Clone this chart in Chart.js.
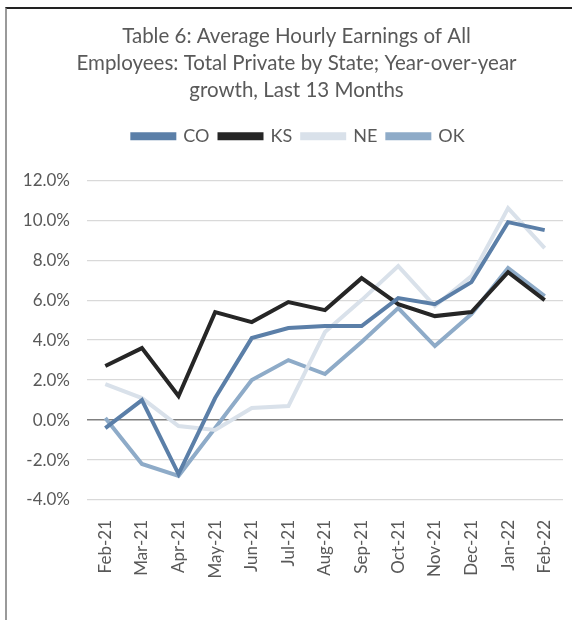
<!DOCTYPE html>
<html>
<head>
<meta charset="utf-8">
<script src="https://cdn.jsdelivr.net/npm/chart.js@4/dist/chart.umd.min.js"></script>
<style>
  html, body { margin: 0; padding: 0; background: #fff; }
  #frame { position: absolute; left: 5px; top: 7px; width: 567px; height: 613px;
           border-left: 2px solid #9a9a9a; border-top: 2px solid #222; box-sizing: border-box; }
  #wrap { position: absolute; left: 0; top: 0; width: 572px; height: 620px; }
</style>
</head>
<body>
<div id="frame"></div>
<div id="wrap"><canvas id="c" width="572" height="620"></canvas></div>
<script>
const categories = ["Feb-21","Mar-21","Apr-21","May-21","Jun-21","Jul-21","Aug-21","Sep-21","Oct-21","Nov-21","Dec-21","Jan-22","Feb-22"];
const CO = [-0.4, 1.0, -2.7, 1.1, 4.1, 4.6, 4.7, 4.7, 6.1, 5.8, 6.9, 9.9, 9.5];
const KS = [2.7, 3.6, 1.2, 5.4, 4.9, 5.9, 5.5, 7.1, 5.8, 5.2, 5.4, 7.4, 6.0];
const NE = [1.8, 1.1, -0.3, -0.5, 0.6, 0.7, 4.4, 6.0, 7.7, 5.7, 7.2, 10.6, 8.6];
const OK = [0.1, -2.2, -2.8, -0.4, 2.0, 3.0, 2.3, 3.9, 5.6, 3.7, 5.3, 7.6, 6.2];
const titleLines = ["Table 6: Average Hourly Earnings of All", "Employees: Total Private by State; Year-over-year", "growth, Last 13 Months"];
const yTicks = { min: -4, max: 12, step: 2 };

const txt = '#595959';
const fontFam = 'Lato, "Open Sans", sans-serif';
const ds = (label, data, color) => ({
  label, data, borderColor: color, backgroundColor: color,
  borderWidth: 4, pointRadius: 0, tension: 0, fill: false
});

const legendGap = {
  id: 'legendGap',
  beforeLayout(chart) {
    const lg = chart.legend;
    if (lg && !lg._gapPatched) {
      const f = lg.fit.bind(lg);
      lg.fit = function () { f(); this.height += 25; };
      lg._gapPatched = true;
    }
  },
  afterLayout(chart) {
    const t = chart.titleBlock, lg = chart.legend;
    if (t) { t.left += 5; t.right += 5; }
    if (lg) { lg.left += 7; lg.right += 7; }
  }
};

new Chart(document.getElementById('c'), {
  type: 'line',
  data: {
    labels: categories,
    datasets: [
      ds('CO', CO, '#5b7fa8'),
      ds('KS', KS, '#262626'),
      ds('NE', NE, '#d9e1ea'),
      ds('OK', OK, '#8eabc8')
    ]
  },
  plugins: [legendGap],
  options: {
    responsive: false,
    animation: false,
    layout: { padding: { left: 20, right: 9, top: 23, bottom: 0 } },
    plugins: {
      title: {
        display: true, text: titleLines, color: txt,
        font: { family: fontFam, size: 20.5, weight: 'normal', lineHeight: 1.32 },
        padding: { top: 0, bottom: 13 }
      },
      legend: {
        display: true,
        labels: {
          color: txt, boxWidth: 42, boxHeight: 4, padding: 10,
          font: { family: fontFam, size: 18 }
        }
      },
      tooltip: { enabled: false }
    },
    scales: {
      x: {
        offset: true,
        grid: { display: false, offset: true }, border: { display: false },
        afterFit: s => { s.height = 120; s.paddingLeft = 0; s.paddingRight = 0; },
        ticks: { color: txt, minRotation: 90, maxRotation: 90, padding: 12,
                 font: { family: fontFam, size: 17 } }
      },
      y: {
        min: yTicks.min, max: yTicks.max,
        border: { display: false },
        afterFit: s => { s.width = 67; s.paddingTop = 0; s.paddingBottom = 0; },
        grid: {
          color: c => c.tick && c.tick.value === 0 ? '#808080' : '#d9d9d9',
          lineWidth: c => c.tick && c.tick.value === 0 ? 1.5 : 1.2,
          drawTicks: false
        },
        ticks: { stepSize: yTicks.step, color: txt, padding: 17,
                 font: { family: fontFam, size: 17 },
                 callback: v => v.toFixed(1) + '%' }
      }
    }
  }
});
</script>
</body>
</html>
